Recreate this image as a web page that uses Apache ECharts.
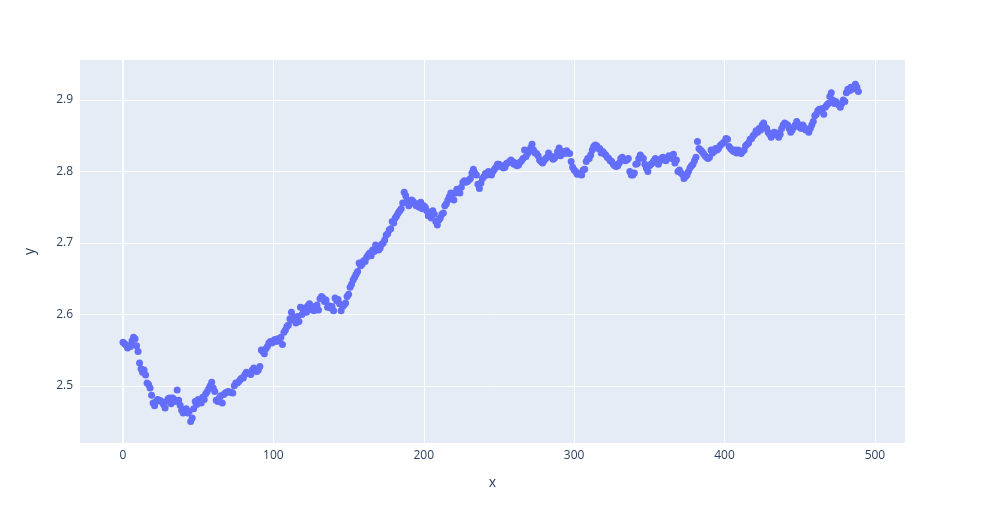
<!DOCTYPE html>
<html>
<head>
<meta charset="utf-8">
<script src="https://cdn.jsdelivr.net/npm/echarts@6/dist/echarts.min.js"></script>
<style>
html,body{margin:0;padding:0;background:#fff;}
#chart{width:985px;height:525px;}
</style>
</head>
<body>
<div id="chart"></div>
<script>
const xTicks = [0, 100, 200, 300, 400, 500];
const yTicks = [2.5, 2.6, 2.7, 2.8, 2.9];
const yValues = [
2.561, 2.559, 2.557, 2.553, 2.556, 2.555, 2.563, 2.568, 2.566, 2.556,
2.548, 2.532, 2.524, 2.519, 2.522, 2.515, 2.504, 2.502, 2.497, 2.487,
2.476, 2.472, 2.478, 2.481, 2.480, 2.479, 2.477, 2.474, 2.469, 2.478,
2.482, 2.483, 2.475, 2.483, 2.481, 2.478, 2.494, 2.480, 2.473, 2.466,
2.462, 2.466, 2.468, 2.462, 2.464, 2.450, 2.455, 2.468, 2.478, 2.474,
2.481, 2.479, 2.476, 2.484, 2.481, 2.489, 2.492, 2.496, 2.500, 2.505,
2.497, 2.492, 2.480, 2.478, 2.483, 2.486, 2.476, 2.488, 2.490, 2.491,
2.492, 2.491, 2.491, 2.490, 2.500, 2.504, 2.504, 2.506, 2.509, 2.511,
2.511, 2.516, 2.519, 2.518, 2.518, 2.516, 2.522, 2.525, 2.521, 2.520,
2.522, 2.527, 2.550, 2.548, 2.545, 2.552, 2.555, 2.560, 2.562, 2.560,
2.563, 2.565, 2.562, 2.566, 2.564, 2.568, 2.558, 2.575, 2.578, 2.583,
2.585, 2.594, 2.603, 2.592, 2.596, 2.588, 2.597, 2.590, 2.610, 2.600,
2.605, 2.609, 2.603, 2.612, 2.615, 2.607, 2.611, 2.605, 2.609, 2.613,
2.606, 2.622, 2.625, 2.623, 2.618, 2.620, 2.610, 2.612, 2.609, 2.611,
2.605, 2.623, 2.619, 2.621, 2.615, 2.605, 2.611, 2.613, 2.616, 2.625,
2.628, 2.638, 2.642, 2.648, 2.652, 2.656, 2.660, 2.672, 2.668, 2.670,
2.675, 2.674, 2.680, 2.683, 2.686, 2.682, 2.690, 2.688, 2.697, 2.692,
2.690, 2.693, 2.698, 2.700, 2.704, 2.711, 2.713, 2.718, 2.720, 2.730,
2.728, 2.735, 2.738, 2.742, 2.745, 2.748, 2.756, 2.771, 2.766, 2.760,
2.752, 2.757, 2.760, 2.758, 2.755, 2.752, 2.755, 2.750, 2.757, 2.748,
2.752, 2.750, 2.745, 2.738, 2.740, 2.735, 2.745, 2.740, 2.730, 2.725,
2.732, 2.735, 2.740, 2.742, 2.752, 2.755, 2.760, 2.765, 2.770, 2.768,
2.760, 2.770, 2.775, 2.772, 2.770, 2.778, 2.785, 2.787, 2.785, 2.786,
2.788, 2.790, 2.798, 2.803, 2.798, 2.795, 2.782, 2.776, 2.784, 2.790,
2.793, 2.797, 2.795, 2.800, 2.798, 2.795, 2.800, 2.803, 2.806, 2.810,
2.810, 2.807, 2.808, 2.805, 2.806, 2.811, 2.812, 2.814, 2.816, 2.814,
2.810, 2.812, 2.808, 2.809, 2.813, 2.815, 2.818, 2.830, 2.821, 2.825,
2.828, 2.833, 2.838, 2.830, 2.826, 2.825, 2.822, 2.816, 2.814, 2.812,
2.815, 2.818, 2.820, 2.826, 2.822, 2.820, 2.817, 2.819, 2.822, 2.828,
2.833, 2.822, 2.826, 2.828, 2.825, 2.829, 2.826, 2.825, 2.814, 2.806,
2.802, 2.800, 2.796, 2.797, 2.796, 2.795, 2.802, 2.803, 2.814, 2.818,
2.818, 2.823, 2.830, 2.835, 2.837, 2.836, 2.832, 2.832, 2.826, 2.828,
2.825, 2.823, 2.820, 2.818, 2.815, 2.814, 2.810, 2.808, 2.807, 2.808,
2.812, 2.818, 2.820, 2.816, 2.815, 2.816, 2.818, 2.800, 2.795, 2.795,
2.798, 2.810, 2.811, 2.818, 2.823, 2.820, 2.818, 2.810, 2.805, 2.800,
2.808, 2.810, 2.812, 2.815, 2.818, 2.816, 2.810, 2.815, 2.818, 2.820,
2.816, 2.815, 2.818, 2.822, 2.820, 2.818, 2.824, 2.812, 2.816, 2.800,
2.802, 2.798, 2.796, 2.790, 2.793, 2.795, 2.800, 2.805, 2.808, 2.810,
2.815, 2.820, 2.842, 2.832, 2.830, 2.828, 2.825, 2.822, 2.820, 2.818,
2.820, 2.830, 2.826, 2.828, 2.832, 2.830, 2.832, 2.836, 2.838, 2.840,
2.842, 2.846, 2.845, 2.835, 2.832, 2.830, 2.828, 2.830, 2.826, 2.830,
2.828, 2.825, 2.828, 2.830, 2.836, 2.838, 2.840, 2.845, 2.846, 2.850,
2.852, 2.857, 2.855, 2.860, 2.858, 2.865, 2.868, 2.862, 2.860, 2.855,
2.852, 2.848, 2.852, 2.855, 2.852, 2.854, 2.848, 2.852, 2.860, 2.865,
2.868, 2.866, 2.865, 2.860, 2.855, 2.858, 2.862, 2.865, 2.870, 2.866,
2.862, 2.860, 2.865, 2.862, 2.858, 2.858, 2.855, 2.860, 2.865, 2.870,
2.878, 2.880, 2.885, 2.887, 2.885, 2.888, 2.880, 2.890, 2.893, 2.895,
2.905, 2.910, 2.900, 2.895, 2.898, 2.895, 2.893, 2.890, 2.895, 2.900,
2.898, 2.910, 2.915, 2.913, 2.918, 2.915, 2.917, 2.922, 2.918, 2.912
];
const xValues = yValues.map((_, i) => i);
const points = xValues.map((x, i) => [x, yValues[i]]);

const labelColor = '#2a3f5f';
const fontFamily = '"Open Sans", "Noto Sans", sans-serif';

const chart = echarts.init(document.getElementById('chart'), null, {renderer: 'canvas'});
chart.setOption({
  backgroundColor: '#ffffff',
  animation: false,
  grid: {
    left: 80, right: 80, top: 60, bottom: 82,
    show: true, backgroundColor: '#E5ECF6', borderWidth: 0
  },
  xAxis: {
    type: 'value',
    min: -28.6, max: 520,
    name: 'x', nameLocation: 'middle', nameGap: 33,
    nameTextStyle: {color: labelColor, fontSize: 14, fontFamily: fontFamily},
    axisLine: {show: false},
    axisTick: {show: false, customValues: xTicks},
    axisLabel: {customValues: xTicks, color: labelColor, fontSize: 12, fontFamily: fontFamily, margin: 7},
    splitLine: {show: true, lineStyle: {color: '#ffffff', width: 1}}
  },
  yAxis: {
    type: 'value',
    min: 2.42, max: 2.956,
    name: 'y', nameLocation: 'middle', nameGap: 43,
    nameTextStyle: {color: labelColor, fontSize: 14, fontFamily: fontFamily},
    axisLine: {show: false},
    axisTick: {show: false, customValues: yTicks},
    axisLabel: {customValues: yTicks, color: labelColor, fontSize: 12, fontFamily: fontFamily, margin: 7,
      formatter: v => v.toFixed(1)},
    splitLine: {show: true, lineStyle: {color: '#ffffff', width: 1}}
  },
  series: [{
    type: 'scatter',
    data: points,
    symbolSize: 7,
    itemStyle: {color: '#636efa', opacity: 1},
    markLine: {
      silent: true, symbol: 'none', label: {show: false},
      lineStyle: {color: '#ffffff', width: 2, type: 'solid'},
      data: [{xAxis: 0}],
      z: 0
    }
  }]
});
</script>
</body>
</html>
